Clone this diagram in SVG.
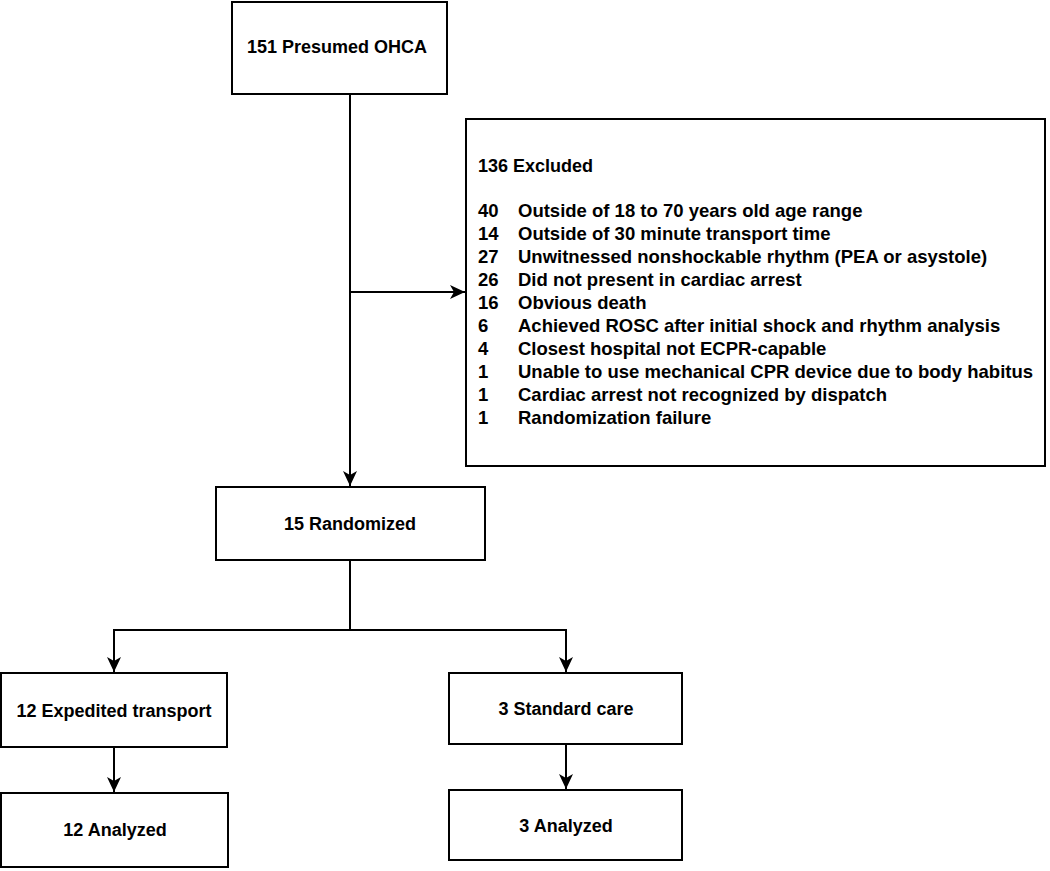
<svg xmlns="http://www.w3.org/2000/svg" width="1050" height="871" viewBox="0 0 1050 871">
<style>
.box{fill:#fff;stroke:#000;stroke-width:2}
.t{font-family:"Liberation Sans",Arial,sans-serif;font-weight:bold;font-size:18px;fill:#000}
.l{font-size:18.5px}
.c{text-anchor:middle}
.edge{fill:none;stroke:#000;stroke-width:2}
</style>
<defs>
<marker id="arr" markerUnits="userSpaceOnUse" markerWidth="16" markerHeight="14" refX="15" refY="7" orient="auto">
<path d="M0,0 L15,7 L0,14 L4,7 z" fill="#000"/>
</marker>
</defs>
<rect width="1050" height="871" fill="#fff"/>
<g id="connectors">
<path class="edge" d="M350,94 V486" marker-end="url(#arr)"/>
<path class="edge" d="M350,292 H465" marker-end="url(#arr)"/>
<path class="edge" d="M350,560 V630 H114 V672" marker-end="url(#arr)"/>
<path class="edge" d="M350,630 H566 V672" marker-end="url(#arr)"/>
<path class="edge" d="M114,747 V792" marker-end="url(#arr)"/>
<path class="edge" d="M566,744 V789" marker-end="url(#arr)"/>
</g>
<g id="presumed">
<rect class="box" x="232" y="2" width="215" height="92"/>
<text class="t c" x="337" y="53">151 Presumed OHCA</text>
</g>
<g id="excluded">
<rect class="box" x="466" y="119" width="579" height="347"/>
<text class="t" x="478" y="172">136 Excluded</text>
<text class="t l" x="478" y="217">40</text><text class="t l" x="518" y="217">Outside of 18 to 70 years old age range</text>
<text class="t l" x="478" y="240">14</text><text class="t l" x="518" y="240">Outside of 30 minute transport time</text>
<text class="t l" x="478" y="263">27</text><text class="t l" x="518" y="263">Unwitnessed nonshockable rhythm (PEA or asystole)</text>
<text class="t l" x="478" y="286">26</text><text class="t l" x="518" y="286">Did not present in cardiac arrest</text>
<text class="t l" x="478" y="309">16</text><text class="t l" x="518" y="309">Obvious death</text>
<text class="t l" x="478" y="332">6</text><text class="t l" x="518" y="332">Achieved ROSC after initial shock and rhythm analysis</text>
<text class="t l" x="478" y="355">4</text><text class="t l" x="518" y="355">Closest hospital not ECPR-capable</text>
<text class="t l" x="478" y="378">1</text><text class="t l" x="518" y="378">Unable to use mechanical CPR device due to body habitus</text>
<text class="t l" x="478" y="401">1</text><text class="t l" x="518" y="401">Cardiac arrest not recognized by dispatch</text>
<text class="t l" x="478" y="424">1</text><text class="t l" x="518" y="424">Randomization failure</text>
</g>
<g id="randomized">
<rect class="box" x="216" y="487" width="269" height="73"/>
<text class="t c" x="350" y="530">15 Randomized</text>
</g>
<g id="expedited">
<rect class="box" x="1" y="673" width="226" height="74"/>
<text class="t c" x="114" y="717">12 Expedited transport</text>
</g>
<g id="analyzed12">
<rect class="box" x="1" y="793" width="227" height="74"/>
<text class="t c" x="115" y="836">12 Analyzed</text>
</g>
<g id="standard">
<rect class="box" x="449" y="673" width="233" height="71"/>
<text class="t c" x="566" y="715">3 Standard care</text>
</g>
<g id="analyzed3">
<rect class="box" x="449" y="790" width="233" height="70"/>
<text class="t c" x="566" y="832">3 Analyzed</text>
</g>
</svg>
